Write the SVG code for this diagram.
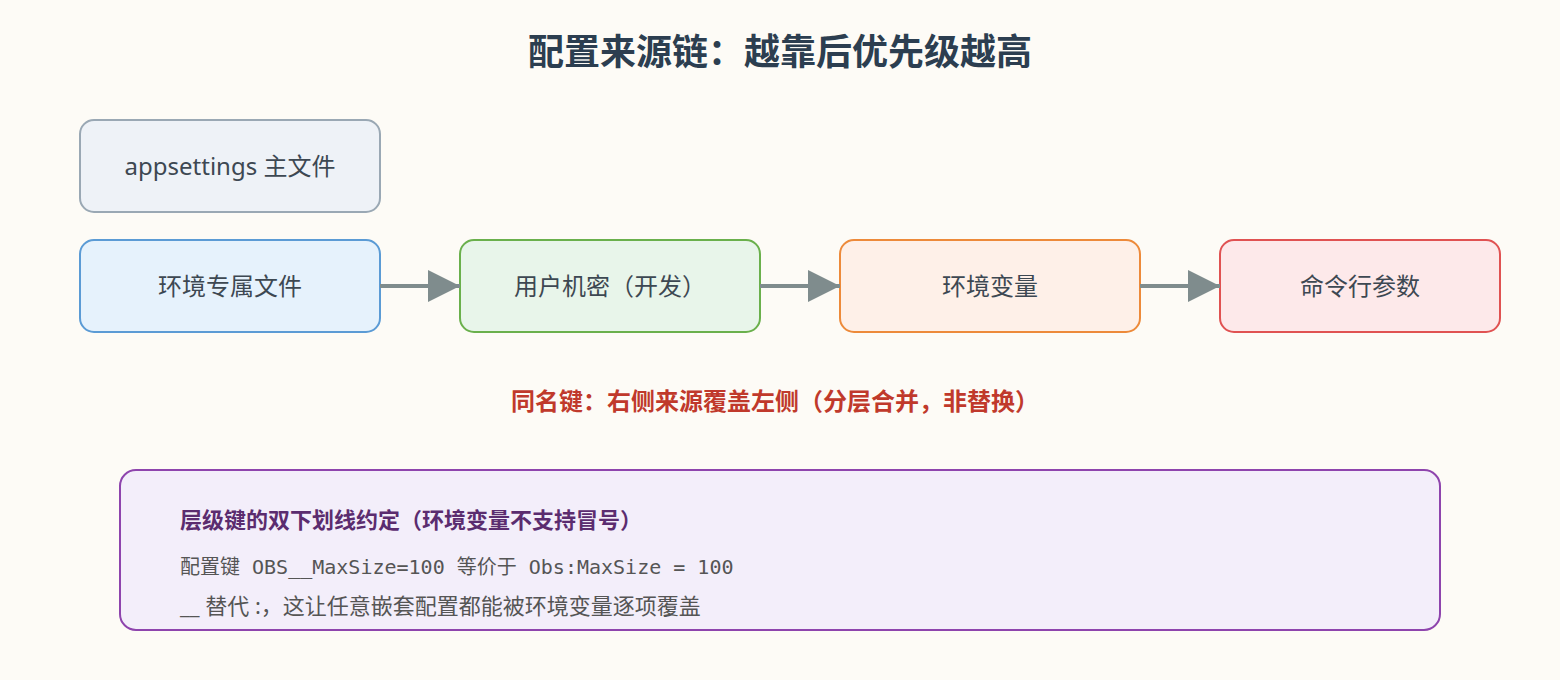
<svg xmlns="http://www.w3.org/2000/svg" width="1560" height="680" viewBox="0 0 1560 680">
<style>
text{font-family:"Noto Sans","Noto Sans CJK SC",sans-serif}
.n{stroke-width:2}
.lbl{font-size:24px;fill:#3d4852;text-anchor:middle}
.c{stroke:#7f8c8d;stroke-width:4;fill:none}
</style>
<defs><marker id="a" markerWidth="8" markerHeight="8" refX="8" refY="4" orient="auto" markerUnits="strokeWidth"><path d="M0,0L8,4L0,8Z" fill="#7f8c8d"/></marker></defs>
<rect width="1560" height="680" fill="#fdfbf6"/>
<text x="780" y="65" font-size="36" font-weight="bold" fill="#2c3e50" text-anchor="middle">配置来源链：越靠后优先级越高</text>
<g id="n0"><rect class="n" x="80" y="120" width="300" height="92" rx="14" fill="#eef2f7" stroke="#9aa8b4"/><text class="lbl" x="230" y="175">appsettings 主文件</text></g>
<g id="n1"><rect class="n" x="80" y="240" width="300" height="92" rx="14" fill="#e6f2fc" stroke="#5b9bd5"/><text class="lbl" x="230" y="295">环境专属文件</text></g>
<g id="n2"><rect class="n" x="460" y="240" width="300" height="92" rx="14" fill="#e8f5ea" stroke="#6ab04c"/><text class="lbl" x="610" y="295">用户机密（开发）</text></g>
<g id="n3"><rect class="n" x="840" y="240" width="300" height="92" rx="14" fill="#fef0e8" stroke="#ed8a3a"/><text class="lbl" x="990" y="295">环境变量</text></g>
<g id="n4"><rect class="n" x="1220" y="240" width="280" height="92" rx="14" fill="#fde9ea" stroke="#e05252"/><text class="lbl" x="1360" y="295">命令行参数</text></g>
<g id="connectors">
<line class="c" x1="380" y1="286" x2="460" y2="286" marker-end="url(#a)"/>
<line class="c" x1="760" y1="286" x2="840" y2="286" marker-end="url(#a)"/>
<line class="c" x1="1140" y1="286" x2="1220" y2="286" marker-end="url(#a)"/>
</g>
<text x="775" y="410" font-size="24" font-weight="bold" fill="#c0392b" text-anchor="middle">同名键：右侧来源覆盖左侧（分层合并，非替换）</text>
<g id="note"><rect x="120" y="470" width="1320" height="160" rx="16" fill="#f3eefa" stroke="#8e44ad" stroke-width="2"/>
<text x="180" y="528" font-size="22" font-weight="bold" fill="#5b2c6f">层级键的双下划线约定（环境变量不支持冒号）</text>
<text x="180" y="574" font-size="20" fill="#555" style="font-family:'DejaVu Sans Mono','Noto Sans CJK SC',monospace">配置键 OBS__MaxSize=100 等价于 Obs:MaxSize = 100</text>
<text x="180" y="614" font-size="22" fill="#555">__ 替代 :，这让任意嵌套配置都能被环境变量逐项覆盖</text></g>
</svg>
